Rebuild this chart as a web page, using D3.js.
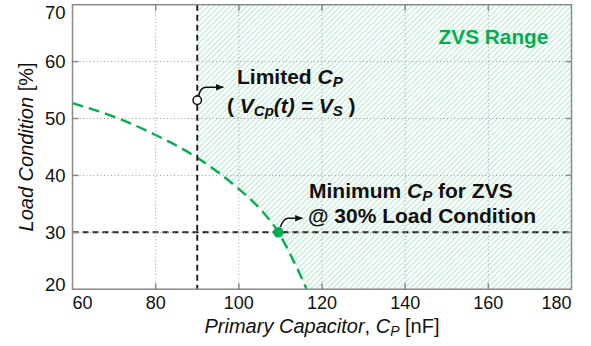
<!DOCTYPE html>
<html>
<head>
<meta charset="utf-8">
<script src="https://cdn.jsdelivr.net/npm/d3@7"></script>
<style>
  html, body { margin: 0; padding: 0; background: #fff; }
  svg { display: block; font-family: Arial, "Liberation Sans", sans-serif; }
</style>
</head>
<body>
<svg id="chart" width="591" height="346"></svg>
<script>
// Axis ticks
const xTicks = [60, 80, 100, 120, 140, 160, 180];
const yTicks = [20, 30, 40, 50, 60, 70];

// ZVS boundary: load condition [%] vs primary capacitor [nF]
const capValues  = [60, 70, 80, 90, 100, 105, 109.5, 113, 116.3, 118];
const loadValues = [52.7, 50.3, 47.1, 43.1, 37.6, 34.2, 30, 25.2, 20, 17];

// Reference lines and marked points
const limitedCp = 90;          // limit where V_Cp(t) = V_S
const limitedMarkLoad = 53.2;  // open marker on the limit line
const targetLoad = 30;         // load condition of interest
const minCp = 109.5;           // minimum C_P for ZVS at 30 % load

const svg = d3.select("#chart");
const pL = 72.5, pR = 571.5, pT = 4.7, pB = 289.2;

const x = d3.scaleLinear().domain([60, 180]).range([pL, pR]);
const y = d3.scaleLinear().domain([20, 70]).range([pB, pT]);

const defs = svg.append("defs");
defs.append("clipPath").attr("id", "plotClip")
  .append("rect").attr("x", pL).attr("y", pT)
  .attr("width", pR - pL).attr("height", pB - pT);

const hatch = defs.append("pattern").attr("id", "hatch")
  .attr("patternUnits", "userSpaceOnUse")
  .attr("width", 5.5).attr("height", 5.5);
hatch.append("path")
  .attr("d", "M-1,6.5 L6.5,-1 M-1,1 L1,-1 M4.5,6.5 L6.5,4.5")
  .attr("stroke", "#b0e5c9").attr("stroke-width", 1.1).attr("fill", "none");

defs.append("marker").attr("id", "arrow")
  .attr("markerUnits", "userSpaceOnUse")
  .attr("viewBox", "0 0 10 10").attr("refX", 9).attr("refY", 5)
  .attr("markerWidth", 8).attr("markerHeight", 8).attr("orient", "auto")
  .append("path").attr("d", "M0,1 L10,5 L0,9 Z").attr("fill", "#111");

const pts = capValues.map((c, i) => [c, loadValues[i]]);
const line = d3.line().x(d => x(d[0])).y(d => y(d[1])).curve(d3.curveMonotoneX);

const plot = svg.append("g").attr("clip-path", "url(#plotClip)");

// Hatched ZVS region: right of the limit line and beyond the boundary curve
const regionPts = pts.filter(d => d[0] >= limitedCp);
const regionPath = line(regionPts) +
  `L${x(180) + 2},${y(loadValues[loadValues.length - 1])}` +
  `L${x(180) + 2},${y(70) - 2}L${x(limitedCp)},${y(70) - 2}Z`;
plot.append("path").attr("d", regionPath).attr("fill", "url(#hatch)");

// Dotted grid
const grid = svg.append("g").attr("stroke", "#9a9a9a").attr("stroke-width", 1)
  .attr("stroke-dasharray", "1,2.5");
grid.selectAll(".gx").data(xTicks.slice(1, -1)).join("line")
  .attr("x1", d => x(d)).attr("x2", d => x(d)).attr("y1", pT).attr("y2", pB);
grid.selectAll(".gy").data(yTicks.slice(1, -1)).join("line")
  .attr("x1", pL).attr("x2", pR).attr("y1", d => y(d)).attr("y2", d => y(d));

// Short solid ticks on all four sides
const ticks = svg.append("g").attr("stroke", "#8a8a8a").attr("stroke-width", 1.5);
ticks.selectAll(".tb").data(xTicks.slice(1, -1)).join("line")
  .attr("x1", d => x(d)).attr("x2", d => x(d)).attr("y1", pB).attr("y2", pB - 6);
ticks.selectAll(".tt").data(xTicks.slice(1, -1)).join("line")
  .attr("x1", d => x(d)).attr("x2", d => x(d)).attr("y1", pT).attr("y2", pT + 6);
ticks.selectAll(".tl").data(yTicks.slice(1, -1)).join("line")
  .attr("x1", pL).attr("x2", pL + 6).attr("y1", d => y(d)).attr("y2", d => y(d));
ticks.selectAll(".tr").data(yTicks.slice(1, -1)).join("line")
  .attr("x1", pR).attr("x2", pR - 6).attr("y1", d => y(d)).attr("y2", d => y(d));

// ZVS boundary curve
plot.append("path").attr("d", line(pts))
  .attr("fill", "none").attr("stroke", "#00b050").attr("stroke-width", 2.4)
  .attr("stroke-dasharray", "11,6");

// Black dashed reference lines
plot.append("line")
  .attr("x1", x(limitedCp)).attr("x2", x(limitedCp)).attr("y1", pT).attr("y2", pB)
  .attr("stroke", "#1a1a1a").attr("stroke-width", 1.9).attr("stroke-dasharray", "6,4");
plot.append("line")
  .attr("x1", pL).attr("x2", pR).attr("y1", y(targetLoad)).attr("y2", y(targetLoad))
  .attr("stroke", "#1a1a1a").attr("stroke-width", 1.9).attr("stroke-dasharray", "6,4");

// Frame
svg.append("rect").attr("x", pL).attr("y", pT)
  .attr("width", pR - pL).attr("height", pB - pT)
  .attr("fill", "none").attr("stroke", "#8a8a8a").attr("stroke-width", 1.5);

// Tick labels
svg.append("g").selectAll("text").data(xTicks).join("text")
  .attr("x", (d, i) => x(d) + (i === 0 ? 10 : i === xTicks.length - 1 ? -15 : 0))
  .attr("y", 308.5).attr("text-anchor", "middle")
  .attr("font-size", 18).attr("fill", "#111").text(d => d);
svg.append("g").selectAll("text").data(yTicks).join("text")
  .attr("x", 65.5)
  .attr("y", (d, i) => y(d) + 6.5 + (i === 0 ? -4.5 : i === yTicks.length - 1 ? 8 : 0))
  .attr("text-anchor", "end")
  .attr("font-size", 18.5).attr("fill", "#111").text(d => d);

// Axis titles
const yt = svg.append("text").attr("transform", `translate(33,${(pT + pB) / 2}) rotate(-90)`)
  .attr("text-anchor", "middle").attr("font-size", 20).attr("fill", "#111");
yt.append("tspan").attr("font-style", "italic").text("Load Condition");
yt.append("tspan").text(" [%]");

const xt = svg.append("text").attr("x", (pL + pR) / 2).attr("y", 333)
  .attr("text-anchor", "middle").attr("font-size", 20).attr("fill", "#111");
xt.append("tspan").attr("font-style", "italic").text("Primary Capacitor");
xt.append("tspan").text(", ");
xt.append("tspan").attr("font-style", "italic").text("C");
xt.append("tspan").attr("font-style", "italic").attr("font-size", 14).attr("dy", 3).text("P");
xt.append("tspan").attr("dy", -3).text(" [nF]");

// ZVS Range label
svg.append("text").attr("x", 493.5).attr("y", 44).attr("text-anchor", "middle")
  .attr("font-size", 20.8).attr("font-weight", "bold").attr("fill", "#00b050")
  .text("ZVS Range");

// Limited C_P annotation
const lx = x(limitedCp), ly = y(limitedMarkLoad);
svg.append("path")
  .attr("d", `M${lx + 1.5},${ly - 4.5} Q${lx + 3},${ly - 13} ${lx + 9},${ly - 13} L${lx + 26},${ly - 13}`)
  .attr("fill", "none").attr("stroke", "#111").attr("stroke-width", 1.5)
  .attr("marker-end", "url(#arrow)");
svg.append("circle").attr("cx", lx).attr("cy", ly).attr("r", 4.2)
  .attr("fill", "#fff").attr("stroke", "#111").attr("stroke-width", 1.5);

const t1 = svg.append("text").attr("x", 237).attr("y", 84)
  .attr("font-size", 21).attr("font-weight", "bold").attr("fill", "#111");
t1.append("tspan").text("Limited ");
t1.append("tspan").attr("font-style", "italic").text("C");
t1.append("tspan").attr("font-style", "italic").attr("font-size", 15).attr("dy", 3).text("P");

const t2 = svg.append("text").attr("x", 227).attr("y", 113)
  .attr("font-size", 21).attr("font-weight", "bold").attr("fill", "#111");
t2.append("tspan").text("( ");
t2.append("tspan").attr("font-style", "italic").text("V");
t2.append("tspan").attr("font-style", "italic").attr("font-size", 15).attr("dy", 3).text("Cp");
t2.append("tspan").attr("font-style", "italic").attr("dy", -3).text("(t) = V");
t2.append("tspan").attr("font-style", "italic").attr("font-size", 15).attr("dy", 3).text("S");
t2.append("tspan").attr("dy", -3).text(" )");

// Minimum C_P annotation
const mx = x(minCp), my = y(targetLoad);
svg.append("path")
  .attr("d", `M${mx + 2},${my - 5} Q${mx + 5},${my - 14} ${mx + 10},${my - 14} L${mx + 24},${my - 14}`)
  .attr("fill", "none").attr("stroke", "#111").attr("stroke-width", 1.5)
  .attr("marker-end", "url(#arrow)");
svg.append("circle").attr("cx", mx).attr("cy", my).attr("r", 5.2).attr("fill", "#00b050");

const t3 = svg.append("text").attr("x", 309).attr("y", 198)
  .attr("font-size", 21).attr("font-weight", "bold").attr("fill", "#111");
t3.append("tspan").text("Minimum ");
t3.append("tspan").attr("font-style", "italic").text("C");
t3.append("tspan").attr("font-style", "italic").attr("font-size", 15).attr("dy", 3).text("P");
t3.append("tspan").attr("dy", -3).text(" for ZVS");

svg.append("text").attr("x", 308).attr("y", 223)
  .attr("font-size", 21).attr("font-weight", "bold").attr("fill", "#111")
  .text("@ 30% Load Condition");
</script>
</body>
</html>
